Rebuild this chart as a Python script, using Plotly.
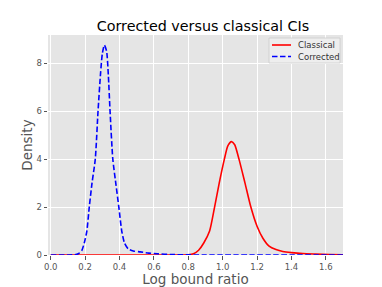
import plotly.graph_objects as go

# Corrected CI log bound ratio density
corr_x = [0.0, 0.10, 0.14, 0.16, 0.18, 0.195, 0.21, 0.224, 0.24, 0.259, 0.275, 0.29, 0.30,
          0.312, 0.325, 0.335, 0.345, 0.361, 0.38, 0.396, 0.413, 0.429, 0.45, 0.48, 0.52,
          0.57, 0.62, 0.70, 0.80, 0.90, 1.70]
corr_y = [0.0, 0.0, 0.01, 0.05, 0.18, 0.5, 1.0, 2.0, 3.0, 4.0, 6.0, 7.6, 8.4,
          8.76, 8.5, 7.5, 6.0, 4.0, 2.9, 2.0, 1.0, 0.5, 0.26, 0.17, 0.13,
          0.08, 0.05, 0.02, 0.005, 0.0, 0.0]

# Classical CI log bound ratio density
clas_x = [0.0, 0.75, 0.80, 0.83, 0.86, 0.89, 0.924, 0.953, 0.98, 1.01, 1.03, 1.051, 1.07,
          1.095, 1.13, 1.164, 1.20, 1.234, 1.27, 1.31, 1.35, 1.40, 1.466, 1.54, 1.62, 1.70]
clas_y = [0.0, 0.0, 0.01, 0.05, 0.2, 0.5, 1.0, 2.0, 3.0, 4.0, 4.55, 4.73, 4.6,
          4.0, 3.0, 2.0, 1.2, 0.7, 0.37, 0.23, 0.15, 0.1, 0.06, 0.04, 0.02, 0.01]

x_ticks = [0.0, 0.2, 0.4, 0.6, 0.8, 1.0, 1.2, 1.4, 1.6]
y_ticks = [0, 2, 4, 6, 8]
legend_names = ["Classical", "Corrected"]

FONT = "DejaVu Sans"
W, H = 382, 287
L, R, T, B = 48, 39, 35, 32
PW, PH = W - L - R, H - T - B

def px_x(p):  # pixel -> paper x
    return (p - L) / PW

def px_y(p):  # pixel -> paper y
    return (H - B - p) / PH

fig = go.Figure()
fig.add_trace(go.Scatter(x=clas_x, y=clas_y, mode="lines", name=legend_names[0],
                         line=dict(color="red", width=1.6, shape="spline", smoothing=0.6)))
fig.add_trace(go.Scatter(x=corr_x, y=corr_y, mode="lines", name=legend_names[1],
                         line=dict(color="blue", width=1.6, dash="5.5px,2.5px",
                                   shape="spline", smoothing=0.6)))

# custom compact legend (matplotlib-like)
shapes = [dict(type="rect", xref="paper", yref="paper",
               x0=px_x(269), x1=px_x(340), y0=px_y(63), y1=px_y(38),
               fillcolor="#EEEEEE", line=dict(color="#CCCCCC", width=0.8), layer="above")]
annotations = []
styles = [dict(color="red", width=1.6), dict(color="blue", width=1.6, dash="5.5px,2.5px")]
for i, (name, st) in enumerate(zip(legend_names, styles)):
    yc = 45 + i * 11.5
    shapes.append(dict(type="line", xref="paper", yref="paper",
                       x0=px_x(272), x1=px_x(291), y0=px_y(yc), y1=px_y(yc),
                       line=st, layer="above"))
    annotations.append(dict(text=name, xref="paper", yref="paper",
                            x=px_x(296), y=px_y(yc), xanchor="left", yanchor="middle",
                            showarrow=False, font=dict(family=FONT, size=8.5, color="#333333")))

fig.update_layout(
    width=W, height=H,
    margin=dict(l=L, r=R, t=T, b=B, autoexpand=False),
    paper_bgcolor="white",
    plot_bgcolor="#E5E5E5",
    font=dict(family=FONT, color="#555555"),
    title=dict(text="Corrected versus classical CIs", x=203 / W, xanchor="center",
               xref="container", yref="container", y=1 - 25.5 / 287, yanchor="middle",
               font=dict(family=FONT, size=14.3, color="black")),
    showlegend=False,
    shapes=shapes,
    annotations=annotations,
    xaxis=dict(range=[-0.016, 1.70], tickvals=x_ticks,
               ticktext=[f"{v:.1f}" for v in x_ticks], automargin=False,
               showgrid=True, gridcolor="white", gridwidth=1, zeroline=False,
               ticks="outside", ticklen=3.5, tickwidth=0.8, tickcolor="#555555",
               tickfont=dict(size=8.5, color="#555555"),
               title=dict(text="Log bound ratio", standoff=3,
                          font=dict(size=13.5, color="#555555"))),
    yaxis=dict(range=[0, 9.18], tickvals=y_ticks, automargin=False,
               showgrid=True, gridcolor="white", gridwidth=1, zeroline=False,
               ticks="outside", ticklen=3.5, tickwidth=0.8, tickcolor="#555555",
               tickfont=dict(size=8.5, color="#555555"),
               title=dict(text="Density", standoff=0,
                          font=dict(size=13.5, color="#555555"))),
)

fig.write_html("out.html", config={"displayModeBar": False},
               post_script="document.body.style.margin='0';document.body.style.padding='0';"
                           "document.documentElement.style.overflow='hidden';")
